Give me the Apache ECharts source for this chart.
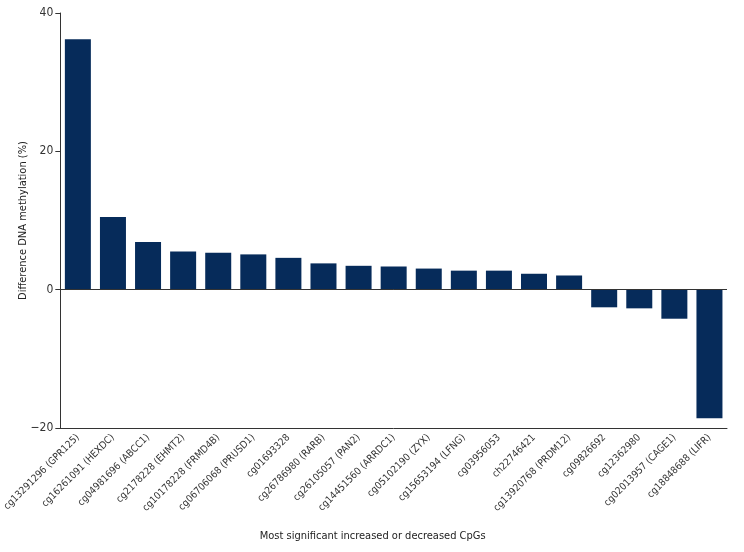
<!DOCTYPE html>
<html>
<head>
<meta charset="utf-8">
<script src="https://cdn.jsdelivr.net/npm/echarts@6/dist/echarts.min.js"></script>
<style>html,body{margin:0;padding:0;background:#fff}#c{width:744px;height:552px}</style>
</head>
<body>
<div id="c"></div>
<script>
const categories = [
  'cg13291296 (GPR125)', 'cg16261091 (HEXDC)', 'cg04981696 (ABCC1)', 'cg2178228 (EHMT2)',
  'cg10178228 (FRMD4B)', 'cg06706068 (PRUSD1)', 'cg01693328', 'cg26786980 (RARB)',
  'cg26105057 (PAN2)', 'cg14451560 (ARRDC1)', 'cg05102190 (ZYX)', 'cg15653194 (LFNG)',
  'cg03956053', 'ch22746421', 'cg13920768 (PRDM12)', 'cg09826692', 'cg12362980',
  'cg02013957 (CAGE1)', 'cg18848688 (LIFR)'
];
const values = [36.2, 10.5, 6.9, 5.5, 5.35, 5.1, 4.6, 3.8, 3.45, 3.35, 3.05, 2.75, 2.75, 2.3, 2.05, -2.55, -2.7, -4.2, -18.6];
const yTicks = [-20, 0, 20, 40];
const xTitle = 'Most significant increased or decreased CpGs';
const yTitle = 'Difference DNA methylation (%)';

const FONT = '"DejaVu Sans Condensed", "Liberation Sans Narrow", "Roboto", sans-serif';
const chart = echarts.init(document.getElementById('c'), null, {renderer: 'canvas'});
chart.setOption({
  animation: false,
  textStyle: {fontFamily: FONT},
  grid: {left: 60, right: 17, top: 13, bottom: 124, containLabel: false},
  xAxis: {
    type: 'category',
    data: categories,
    name: xTitle,
    nameLocation: 'middle',
    nameGap: 103,
    nameTextStyle: {fontFamily: FONT, fontSize: 11, color: '#222', padding: [0, 42, 0, 0]},
    axisLine: {onZero: false, lineStyle: {color: '#333', width: 1}},
    axisTick: {alignWithLabel: true, length: 5, lineStyle: {color: '#333'}},
    axisLabel: {rotate: 45, interval: 0, fontFamily: FONT, fontSize: 10, color: '#333', margin: 8}
  },
  yAxis: {
    type: 'value',
    min: yTicks[0],
    max: yTicks[yTicks.length - 1],
    interval: 20,
    name: yTitle,
    nameLocation: 'middle',
    nameGap: 32,
    nameMoveOverlap: false,
    nameTextStyle: {fontFamily: FONT, fontSize: 11, color: '#222'},
    axisLine: {show: true, lineStyle: {color: '#333', width: 1}},
    axisTick: {show: true, length: 5, lineStyle: {color: '#333'}},
    axisLabel: {fontFamily: FONT, fontSize: 12, color: '#333', margin: 7,
      formatter: v => v < 0 ? '\u2212' + Math.abs(v) : String(v)},
    splitLine: {show: false}
  },
  series: [{
    type: 'bar',
    data: values,
    barWidth: 26,
    itemStyle: {color: '#062b5a'},
    markLine: {
      silent: true,
      symbol: 'none',
      label: {show: false},
      lineStyle: {color: '#333', width: 1, type: 'solid'},
      data: [{yAxis: 0}]
    }
  }]
});
</script>
</body>
</html>
